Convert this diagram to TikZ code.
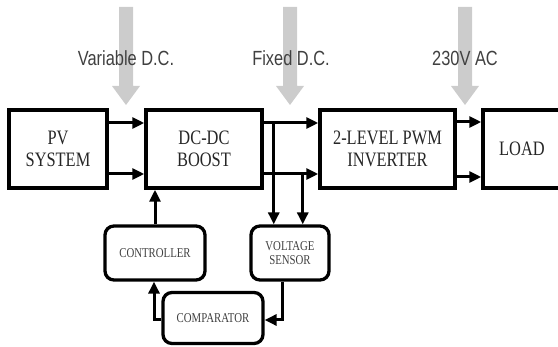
\documentclass[tikz,border=0pt]{standalone}
\usepackage{fontspec}
\setmainfont{Liberation Serif}
\newfontfamily\boxfont[FakeStretch=0.8]{Liberation Serif}
\newfontfamily\lblfont[FakeStretch=0.8]{Liberation Sans}
\usetikzlibrary{arrows.meta}

\begin{document}
\begin{tikzpicture}[x=1pt, y=-1pt,
    block/.style={draw, line width=3.5pt, minimum width=#1, minimum height=78pt, align=center, text=black!85, font=\boxfont\fontsize{20.5}{22}\selectfont},
    unit/.style={draw, line width=3.3pt, rounded corners=9pt, minimum width=#1, minimum height=54pt, align=center, text=black!75, font=\boxfont\fontsize{13.5}{13.5}\selectfont},
    arr/.style={line width=3pt, -{Triangle[length=12pt, width=11pt]}},
    flow/.style={fill=black!20},
    lbl/.style={text=black!75, font=\lblfont\fontsize{20.5}{20}\selectfont}]
\useasboundingbox (0,0) rectangle (558,347);
% grey flow arrows
\foreach \x in {126,290,465} {
    \fill[flow] (\x-7,7) -- (\x+7,7) -- (\x+7,86) -- (\x+14,86) -- (\x,105) -- (\x-14,86) -- (\x-7,86) -- cycle;
}
\node[lbl] (vdc) at (126,58) {Variable D.C.};
\node[lbl] (fdc) at (291,58) {Fixed D.C.};
\node[lbl] (vac) at (465,58) {230V AC};
% main chain
\node[block=98pt] (pv) at (58,149) {PV\\SYSTEM};
\node[block=116pt] (boost) at (204,149) {DC-DC\\BOOST};
\node[block=135pt] (inverter) at (387.5,149) {2-LEVEL PWM\\INVERTER};
\node[block=78pt] (load) at (522,149) {LOAD};
% control loop
\node[unit=100pt] (controller) at (155,253) {CONTROLLER};
\node[unit=78pt] (sensor) at (290,253) {VOLTAGE\\SENSOR};
\node[unit=100pt, minimum height=51pt] (comparator) at (213,318) {COMPARATOR};
\foreach \s in {26,-25} {
    \draw[arr] ([yshift=\s pt]pv.east) -- ([yshift=\s pt]boost.west);
    \draw[arr] ([yshift=\s pt]boost.east) -- ([yshift=\s pt]inverter.west);
}
\foreach \s in {27,-28} {
    \draw[arr] ([yshift=\s pt]inverter.east) -- ([yshift=\s pt]load.west);
}
\coordinate (tapA) at ([xshift=10pt, yshift=26pt]boost.east);
\coordinate (tapB) at ([xshift=39pt, yshift=-25pt]boost.east);
\draw[arr] (tapA) -- (tapA |- sensor.north);
\draw[arr] (tapB) -- (tapB |- sensor.north);
\draw[arr] (controller.north) -- (controller.north |- boost.south);
\draw[arr] ([xshift=-8pt]sensor.south) |- ([yshift=-2pt]comparator.east);
\draw[arr] ([yshift=-2pt]comparator.west) -| ([xshift=-1pt]controller.south);
\end{tikzpicture}
\end{document}
